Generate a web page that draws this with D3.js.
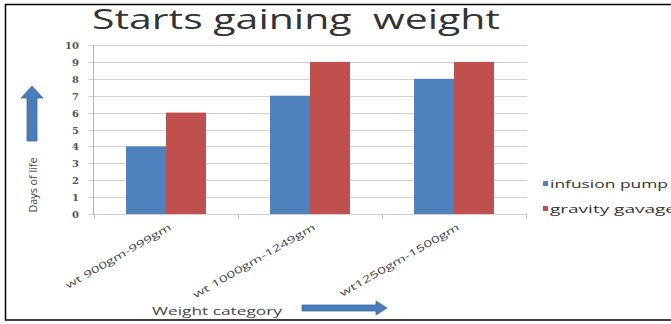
<!DOCTYPE html>
<html>
<head>
<meta charset="utf-8">
<script src="https://cdn.jsdelivr.net/npm/d3@7"></script>
<style>
  body { margin: 0; background: #fff; }
  svg { display: block; }
</style>
</head>
<body>
<svg width="671" height="324"></svg>
<script>
const categories = ["wt 900gm-999gm", "wt 1000gm-1249gm", "wt1250gm-1500gm"];
const seriesNames = ["infusion pump", "gravity gavage"];
const infusionPump = [4, 7, 8];
const gravityGavage = [6, 9, 9];
const yTicks = [0, 1, 2, 3, 4, 5, 6, 7, 8, 9, 10];
const labelLengths = [120, 139, 136];
const legendLengths = [118, 126];

const colors = ["#4f81bd", "#c0504d"];
const svg = d3.select("svg");

// frame
svg.append("rect")
    .attr("x", 5.5).attr("y", 4.5)
    .attr("width", 720).attr("height", 315.5)
    .attr("fill", "none")
    .attr("stroke", "#000")
    .attr("stroke-width", 1.5);

const x0 = d3.scaleBand().domain(categories).range([94, 526]).paddingInner(0).paddingOuter(0);
const x1 = d3.scaleBand().domain(seriesNames).range([32, 112]);
const y = d3.scaleLinear().domain([0, 10]).range([214, 45]);

// grid
svg.append("g").selectAll("line")
    .data(yTicks)
    .enter().append("line")
    .attr("x1", 88).attr("x2", 527)
    .attr("y1", d => Math.round(y(d)) + 0.5)
    .attr("y2", d => Math.round(y(d)) + 0.5)
    .attr("stroke", "#d0d0d0");

// y axis line
svg.append("line")
    .attr("x1", 93.5).attr("x2", 93.5)
    .attr("y1", y(10)).attr("y2", y(0))
    .attr("stroke", "#b0b0b0");

// category ticks
svg.append("g").selectAll("line")
    .data(categories.map(c => x0(c)).concat([x0.range()[1]]))
    .enter().append("line")
    .attr("x1", d => d + 0.5).attr("x2", d => d + 0.5)
    .attr("y1", y(0)).attr("y2", y(0) + 5)
    .attr("stroke", "#c0c0c0");

// y tick labels
svg.append("g").selectAll("text")
    .data(yTicks)
    .enter().append("text")
    .attr("x", 79)
    .attr("y", d => y(d) + 4)
    .attr("text-anchor", "end")
    .attr("font-family", "DejaVu Serif")
    .attr("font-size", "10px")
    .attr("font-weight", "bold")
    .attr("fill", "#555")
    .text(d => d);

// bars
const rows = categories.map((c, i) => ({cat: c, values: [infusionPump[i], gravityGavage[i]]}));
const groups = svg.append("g").selectAll("g")
    .data(rows)
    .enter().append("g")
    .attr("transform", d => `translate(${x0(d.cat)},0)`);

groups.selectAll("rect")
    .data(d => d.values.map((v, j) => ({name: seriesNames[j], value: v, j: j})))
    .enter().append("rect")
    .attr("x", d => x1(d.name))
    .attr("y", d => y(d.value))
    .attr("width", x1.bandwidth())
    .attr("height", d => y(0) - y(d.value))
    .attr("fill", d => colors[d.j]);

// x labels
svg.append("g").selectAll("text")
    .data(categories)
    .enter().append("text")
    .attr("transform", d => `translate(${x0(d) + x0.bandwidth() / 2 + 6},229) rotate(-30)`)
    .attr("text-anchor", "end")
    .attr("font-family", "Open Sans")
    .attr("font-size", "9.5px")
    .attr("fill", "#444")
    .attr("textLength", (d, i) => labelLengths[i])
    .attr("lengthAdjust", "spacingAndGlyphs")
    .text(d => d);

// title
svg.append("text")
    .attr("x", 92).attr("y", 29)
    .attr("font-family", "Open Sans")
    .attr("font-size", "27px")
    .attr("fill", "#333")
    .attr("textLength", 408)
    .attr("lengthAdjust", "spacingAndGlyphs")
    .style("white-space", "pre")
    .text("Starts gaining  weight");

// y axis title + arrow
svg.append("text")
    .attr("transform", "translate(37,185) rotate(-90)")
    .attr("text-anchor", "middle")
    .attr("font-family", "Open Sans")
    .attr("font-size", "11px")
    .attr("fill", "#444")
    .attr("textLength", 55)
    .attr("lengthAdjust", "spacingAndGlyphs")
    .text("Days of life");

svg.append("path")
    .attr("d", "M32,86 L43,98 L37,98 L37,141 L27,141 L27,98 L21,98 Z")
    .attr("fill", "#4a7ebb")
    .attr("stroke", "#3a6aa5")
    .attr("stroke-width", 0.8);

// x axis title + arrow
svg.append("text")
    .attr("x", 152).attr("y", 315)
    .attr("font-family", "Open Sans")
    .attr("font-size", "11px")
    .attr("fill", "#444")
    .attr("textLength", 130)
    .attr("lengthAdjust", "spacingAndGlyphs")
    .text("Weight category");

svg.append("path")
    .attr("d", "M302,305 L376,305 L376,301 L387,308 L376,315 L376,311 L302,311 Z")
    .attr("fill", "#4a7ebb")
    .attr("stroke", "#3a6aa5")
    .attr("stroke-width", 0.8);

// legend
const legend = svg.append("g").selectAll("g")
    .data(seriesNames)
    .enter().append("g")
    .attr("transform", (d, i) => `translate(543,${184 + i * 25})`);

legend.append("rect")
    .attr("x", 0).attr("y", -3)
    .attr("width", 5).attr("height", 5)
    .attr("fill", (d, i) => colors[i]);

legend.append("text")
    .attr("x", 7).attr("y", 3.5)
    .attr("font-family", "Open Sans")
    .attr("font-size", "10.5px")
    .attr("fill", "#333")
    .attr("textLength", (d, i) => legendLengths[i])
    .attr("lengthAdjust", "spacingAndGlyphs")
    .text(d => d);
</script>
</body>
</html>
